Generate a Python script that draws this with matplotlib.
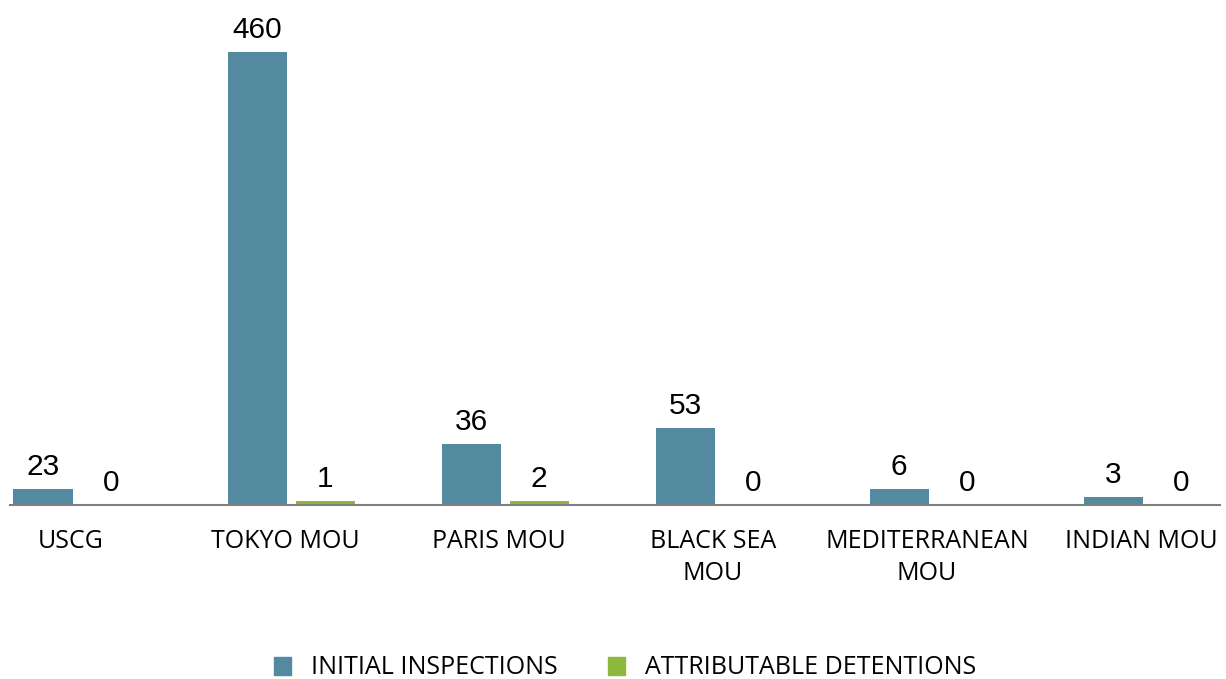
import matplotlib
matplotlib.use("Agg")
from matplotlib import pyplot as plt
from matplotlib.patches import Patch
import numpy as np

categories = ["USCG", "TOKYO MOU", "PARIS MOU", "BLACK SEA\nMOU", "MEDITERRANEAN\nMOU", "INDIAN MOU"]
inspections = [23, 460, 36, 53, 6, 3]
detentions = [0, 1, 2, 0, 0, 0]
# bar heights as drawn in the source chart (it does not scale them to the labels)
inspections_drawn = [16, 460, 62, 78, 16, 8]
detentions_drawn = [0, 4, 4, 0, 0, 0]

BLUE = "#548a9f"
GREEN = "#8db83d"
CAT_FONT = ["Open Sans", "DejaVu Sans"]
NUM_FONT = ["Liberation Sans", "DejaVu Sans"]


def main() -> None:
    W, H = 1226, 679
    fig = plt.figure(figsize=(W / 100, H / 100), dpi=100)
    ax = fig.add_axes([10 / W, (H - 505) / H, 1210 / W, 453 / H])

    step = 214.0
    x = np.arange(len(categories))
    bw = 59 / step
    off = 34 / step

    ax.bar(x - off, inspections_drawn, bw, color=BLUE)
    ax.bar(x + off, detentions_drawn, bw, color=GREEN)

    for xs, hs, vs in [(x - off, inspections_drawn, inspections),
                       (x + off, detentions_drawn, detentions)]:
        for xi, h, v in zip(xs, hs, vs):
            ax.annotate(str(v), (xi, h), xytext=(0, 10), textcoords="offset points",
                        ha="center", va="baseline", fontsize=21.5, family=NUM_FONT,
                        annotation_clip=False)

    # first group centre sits ~77px from the left edge, axis starts at 10px
    ax.set_xlim(-67 / step, 1143 / step)
    ax.set_ylim(0, 460)
    ax.set_xticks(x - 6 / step)
    ax.set_xticklabels(categories, fontsize=18, family=CAT_FONT, linespacing=1.38)
    ax.tick_params(axis="x", length=0, pad=17)
    ax.set_yticks([])
    for s in ["top", "left", "right"]:
        ax.spines[s].set_visible(False)
    ax.spines["bottom"].set_color("#7f7f7f")
    ax.spines["bottom"].set_linewidth(1.5)

    handles = [Patch(color=BLUE, label="INITIAL INSPECTIONS"),
               Patch(color=GREEN, label="ATTRIBUTABLE DETENTIONS")]
    fig.legend(handles=handles, loc="center", bbox_to_anchor=(625 / W, (H - 668) / H),
               ncol=2, frameon=False, handlelength=0.7, handleheight=0.7,
               handletextpad=0.8, columnspacing=2.0,
               prop={"family": CAT_FONT, "size": 18})

    fig.savefig("out.png", dpi=100)


if __name__ == "__main__":
    main()
